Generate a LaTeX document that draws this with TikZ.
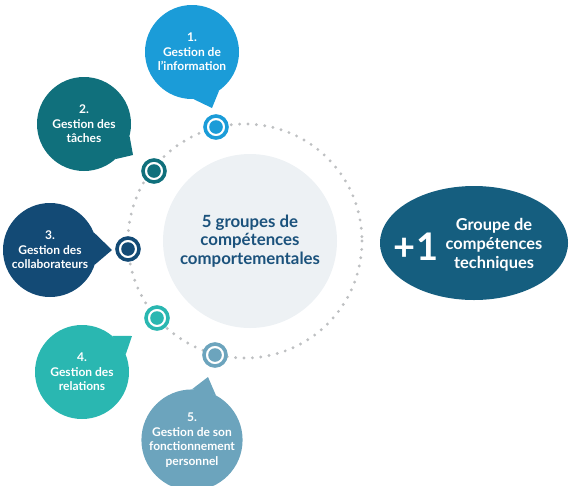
\documentclass[tikz,border=0pt]{standalone}
\usepackage{fontspec}
\setsansfont{Lato}
\usepackage{tikz}
\usetikzlibrary{shapes.geometric}
\definecolor{Ablue}{RGB}{27,156,216}
\definecolor{Bteal}{RGB}{16,112,124}
\definecolor{Cnavy}{RGB}{19,74,117}
\definecolor{Dturq}{RGB}{42,183,177}
\definecolor{Egrey}{RGB}{108,164,189}
\definecolor{Tfill}{RGB}{21,94,127}
\definecolor{Cfill}{RGB}{237,241,244}
\definecolor{Ctext}{RGB}{27,82,124}
\definecolor{Dots}{RGB}{190,192,194}

\begin{document}
\begin{tikzpicture}[x=1pt,y=-1pt,line cap=round,line join=round,
  bubble/.style={circle,fill=#1,minimum size=94pt,inner sep=0pt,text=white,align=center,
    font=\sffamily\bfseries\fontsize{12}{14.5}\selectfont},
  marker/.style={circle,draw=#1,line width=3.6pt,fill=white,minimum size=22pt,inner sep=0pt,
    path picture={\fill[#1] (path picture bounding box.center) circle[radius=6.8pt];}},
  whitetext/.style={text=white,align=center,inner sep=0pt}]
\path[use as bounding box] (0,0) rectangle (569,485);
% dotted ring and core
\coordinate (ctr) at (245,241);
\draw[Dots,line width=3.2pt,dash pattern=on 0pt off 8.4pt] (ctr) circle[radius=117];
\node[circle,fill=Cfill,minimum size=174pt,inner sep=0pt,text=Ctext,align=center,
  font=\sffamily\bfseries\fontsize{16.8}{18.5}\selectfont] (core) at (250,241)
  {5 groupes de\\compétences\\comportementales};
% the five bubbles
\node[bubble=Ablue] (g1) at (192,52) {1.\\Gestion de\\l’information};
\node[bubble=Bteal] (g2) at (84,124) {2.\\Gestion des\\tâches};
\node[bubble=Cnavy] (g3) at (50,250) {3.\\Gestion des\\collaborateurs};
\node[bubble=Dturq] (g4) at (82,372) {4.\\Gestion des\\relations};
\node[bubble=Egrey] (g5) at (192,440) {5.\\Gestion de son\\fonctionnement\\personnel};
\coordinate (t1) at (212,108);
\coordinate (t2) at (133,155);
\coordinate (t3) at (112,250);
\coordinate (t4) at (132,336);
\coordinate (t5) at (208,377);
\fill[Ablue] (g1.-88) -- (t1) -- (g1.-55) -- cycle;
\fill[Bteal] (g2.-15) -- (t2) -- (g2.-48) -- cycle;
\fill[Cnavy] (g3.22) -- (t3) -- (g3.-18) -- cycle;
\fill[Dturq] (g4.50) -- (t4) -- (g4.22) -- cycle;
\fill[Egrey] (g5.90) -- (t5) -- (g5.62) -- cycle;
% markers on the ring
\node[marker=Ablue] (m1) at (216,127) {};
\node[marker=Bteal] (m2) at (154,171) {};
\node[marker=Cnavy] (m3) at (128,249) {};
\node[marker=Dturq] (m4) at (157,318) {};
\node[marker=Egrey] (m5) at (215,355) {};
% technical group
\node[ellipse,fill=Tfill,minimum width=188pt,minimum height=114pt,inner sep=0pt] (tech) at (474,243) {};
\node[whitetext,font=\sffamily\bfseries\fontsize{38}{38}\selectfont] (plus) at (416,247) {+1};
\node[whitetext,font=\sffamily\bfseries\fontsize{16.4}{19}\selectfont] (tlabel) at (494,245)
  {Groupe de\\compétences\\techniques};
\end{tikzpicture}
\end{document}
